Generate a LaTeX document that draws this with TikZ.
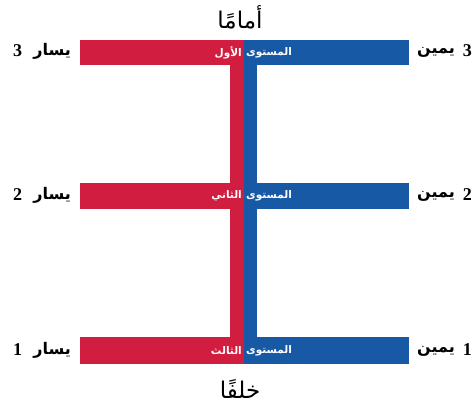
\documentclass[tikz,border=0pt]{standalone}
\usepackage{fontspec}
\TeXXeTstate=1
\newfontfamily\arabicfont[Script=Arabic]{DejaVu Sans}
\newfontfamily\digitfont{Liberation Serif}
\definecolor{barred}{RGB}{209,29,64}
\definecolor{barblue}{RGB}{24,89,166}
\begin{document}
\begin{tikzpicture}[x=1pt,y=-1pt,
  redbar/.style={fill=barred,draw=none},
  bluebar/.style={fill=barblue,draw=none},
  bartext/.style={text=white,font=\arabicfont\bfseries\fontsize{10.5}{12}\selectfont,inner sep=1pt},
  sidetext/.style={text=black,font=\arabicfont\bfseries\fontsize{16}{18}\selectfont,inner sep=0pt},
  sidenum/.style={text=black,font=\digitfont\bfseries\fontsize{18}{20}\selectfont,inner sep=0pt},
  dirtext/.style={text=black,font=\arabicfont\fontsize{23}{26}\selectfont,inner sep=0pt}]
\useasboundingbox (0,0) rectangle (472,409);
% vertical bars
\fill[redbar] (230,40) rectangle (244,364);
\fill[bluebar] (244,40) rectangle (257,364);
% horizontal bars
\fill[redbar] (80,40) rectangle (244,65);
\fill[bluebar] (244,40) rectangle (409,65);
\fill[redbar] (80,183) rectangle (244,209);
\fill[bluebar] (244,183) rectangle (409,209);
\fill[redbar] (80,337) rectangle (244,364);
\fill[bluebar] (244,337) rectangle (409,364);
% bar labels
\node[bartext,anchor=east] (l1a) at (243,52.5) {\beginR الأول\endR};
\node[bartext,anchor=west] (l1b) at (245,52.5) {\beginR المستوى\endR};
\node[bartext,anchor=east] (l2a) at (243,196) {\beginR الثاني\endR};
\node[bartext,anchor=west] (l2b) at (245,196) {\beginR المستوى\endR};
\node[bartext,anchor=east] (l3a) at (243,350.5) {\beginR الثالث\endR};
\node[bartext,anchor=west] (l3b) at (245,350.5) {\beginR المستوى\endR};
% side labels: left (digit then word)
\node[sidenum,anchor=west] (ln3) at (13,51) {3};
\node[sidetext,anchor=east] (lw3) at (71,51) {\beginR يسار\endR};
\node[sidenum,anchor=west] (ln2) at (13,195) {2};
\node[sidetext,anchor=east] (lw2) at (71,195) {\beginR يسار\endR};
\node[sidenum,anchor=west] (ln1) at (13,350) {1};
\node[sidetext,anchor=east] (lw1) at (71,350) {\beginR يسار\endR};
% side labels: right (word then digit)
\node[sidetext,anchor=west] (rw3) at (417,52) {\beginR يمين\endR};
\node[sidenum,anchor=east] (rn3) at (472,51) {3};
\node[sidetext,anchor=west] (rw2) at (417,196) {\beginR يمين\endR};
\node[sidenum,anchor=east] (rn2) at (472,195) {2};
\node[sidetext,anchor=west] (rw1) at (417,351) {\beginR يمين\endR};
\node[sidenum,anchor=east] (rn1) at (472,350) {1};
% directions
\node[dirtext] (front) at (240,17) {\beginR أمامًا\endR};
\node[dirtext] (back) at (240,389) {\beginR خلفًا\endR};
\end{tikzpicture}
\end{document}
